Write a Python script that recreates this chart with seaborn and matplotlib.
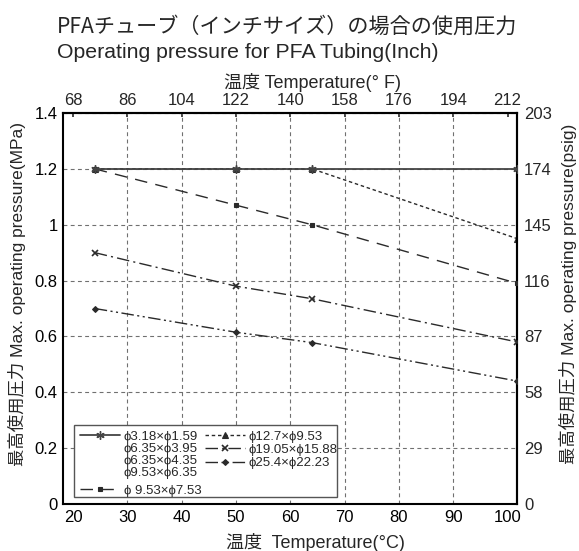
import matplotlib
matplotlib.use('Agg')
import matplotlib.pyplot as plt
import seaborn as sns
from matplotlib.lines import Line2D
from matplotlib.patches import Rectangle
from matplotlib.ticker import FuncFormatter

# data
temp_c = [24, 50, 64, 101.8]
p_318 = [1.2, 1.2, 1.2, 1.2]
p_127 = [1.2, 1.2, 1.2, 0.95]
p_953 = [1.2, 1.07, 1.0, 0.79]
p_1905 = [0.9, 0.78, 0.735, 0.58]
p_254 = [0.7, 0.615, 0.578, 0.44]

x_ticks = [20, 30, 40, 50, 60, 70, 80, 90, 100]
f_ticks = [68, 86, 104, 122, 140, 158, 176, 194, 212]
y_ticks = [0, 0.2, 0.4, 0.6, 0.8, 1.0, 1.2, 1.4]
psig_ticks = [0, 29, 58, 87, 116, 145, 174, 203]

lab_318 = ['ϕ3.18×ϕ1.59', 'ϕ6.35×ϕ3.95', 'ϕ6.35×ϕ4.35', 'ϕ9.53×ϕ6.35']
lab_953 = 'ϕ 9.53×ϕ7.53'
lab_127 = 'ϕ12.7×ϕ9.53'
lab_1905 = 'ϕ19.05×ϕ15.88'
lab_254 = 'ϕ25.4×ϕ22.23'

sns.set_style('white')
plt.rcParams['font.family'] = ['Liberation Sans', 'Noto Sans CJK JP', 'DejaVu Sans']

ink = '#2a2a2a'
st_318 = dict(color='#444444', linestyle='-', linewidth=1.3, marker=(6, 2, 0), markersize=6, markeredgewidth=1.0)
st_127 = dict(color=ink, linestyle=(0, (2.5, 2)), linewidth=1.0, marker='^', markersize=4.5, markeredgewidth=0.8)
st_953 = dict(color=ink, linestyle=(0, (9, 6)), linewidth=1.0, marker='s', markersize=3.5, markeredgewidth=0.8)
st_1905 = dict(color=ink, linestyle=(0, (9, 3, 1.5, 3)), linewidth=1.0, marker='x', markersize=4.5, markeredgewidth=1.2)
st_254 = dict(color=ink, linestyle=(0, (9, 2.5, 1.5, 2.5, 1.5, 2.5)), linewidth=1.0, marker='D', markersize=3, markeredgewidth=0.8)

fig = plt.figure(figsize=(5.79, 5.51), dpi=100)
ax = fig.add_axes([62.7 / 579, 1 - 504 / 551, 454.6 / 579, 391 / 551])

for vals, st, z in [(p_127, st_127, 2), (p_953, st_953, 3), (p_1905, st_1905, 3),
                    (p_254, st_254, 3), (p_318, st_318, 4)]:
    sns.lineplot(x=temp_c, y=vals, ax=ax, markeredgecolor=st['color'],
                 markerfacecolor=st['color'], zorder=z, **st)

ax.set_xlim(18.1, 101.8)
ax.set_ylim(0, 1.4)
ax.set_xticks(x_ticks)
ax.set_yticks(y_ticks)
ax.yaxis.set_major_formatter(FuncFormatter(lambda v, p: f'{v:g}'))
ax.set_xlabel('')
ax.set_ylabel('')

ax.grid(True, color='#707070', linestyle=(0, (3.5, 3)), linewidth=0.8)
gx = ax.get_xgridlines()
gx[0].set_visible(False)
gx[-1].set_visible(False)

ax.tick_params(axis='both', direction='in', length=3, width=1.2, labelsize=12, colors='black')
ax.tick_params(axis='x', pad=4)
ax.tick_params(axis='y', pad=3.5)
for s in ax.spines.values():
    s.set_color('black')
    s.set_linewidth(1.5)

secx = ax.secondary_xaxis('top', functions=(lambda c: c * 1.8 + 32, lambda f: (f - 32) / 1.8))
secx.set_xticks(f_ticks)
secx.tick_params(direction='in', length=3, width=1.2, labelsize=12, pad=3.5)
secy = ax.secondary_yaxis('right', functions=(lambda p: p * 145.04, lambda s: s / 145.04))
secy.set_yticks(psig_ticks)
secy.tick_params(direction='in', length=0, labelsize=12, pad=5)
for sa in (secx, secy):
    for s in sa.spines.values():
        s.set_linewidth(1.5)

# legend: framed box, first column split in two pieces
ax.add_patch(Rectangle((0.0249, 0.0179), 0.5785, 0.184, transform=ax.transAxes,
                       facecolor='white', edgecolor='#555555', linewidth=1.0, zorder=6))
blank = Line2D([], [], linestyle='none')
h318 = Line2D([], [], **st_318)
h953 = Line2D([], [], **st_953)
h127 = Line2D([], [], **st_127)
h1905 = Line2D([], [], **st_1905)
h254 = Line2D([], [], **st_254)

leg_kw = dict(frameon=False, borderpad=0, borderaxespad=0, handlelength=3.0,
              handletextpad=0.3, fontsize=9.5, loc='upper left')
leg1 = ax.legend([h318, blank, blank, blank], lab_318,
                 bbox_to_anchor=(0.038, 0.188), labelspacing=0.0, **leg_kw)
leg1.set_zorder(7)
ax.add_artist(leg1)
leg3 = ax.legend([h953], [lab_953], bbox_to_anchor=(0.038, 0.049), **leg_kw)
leg3.set_zorder(7)
ax.add_artist(leg3)
leg2 = ax.legend([h127, h1905, h254], [lab_127, lab_1905, lab_254],
                 bbox_to_anchor=(0.313, 0.188), labelspacing=0.08, **leg_kw)
leg2.set_zorder(7)

# titles and axis labels
fig.text(57 / 579, 1 - 27 / 551, 'PFAチューブ（インチサイズ）の場合の使用圧力', fontsize=15.2,
         family=['Noto Sans CJK JP'], ha='left', va='center')
fig.text(57 / 579, 1 - 52 / 551, 'Operating pressure for PFA Tubing(Inch)', fontsize=15.3,
         ha='left', va='center')
fig.text(312 / 579, 1 - 83 / 551, '温度 Temperature(° F)', fontsize=13, ha='center', va='center')
fig.text(315 / 579, 1 - 542 / 551, '温度  Temperature(°C)', fontsize=13, ha='center', va='center')
fig.text(17 / 579, 1 - 294 / 551, '最高使用圧力 Max. operating pressure(MPa)', fontsize=12.5,
         rotation=90, ha='center', va='center')
fig.text(568 / 579, 1 - 294 / 551, '最高使用圧力 Max. operating pressure(psig)', fontsize=12.5,
         rotation=90, ha='center', va='center')

fig.savefig('out.png', dpi=100)
